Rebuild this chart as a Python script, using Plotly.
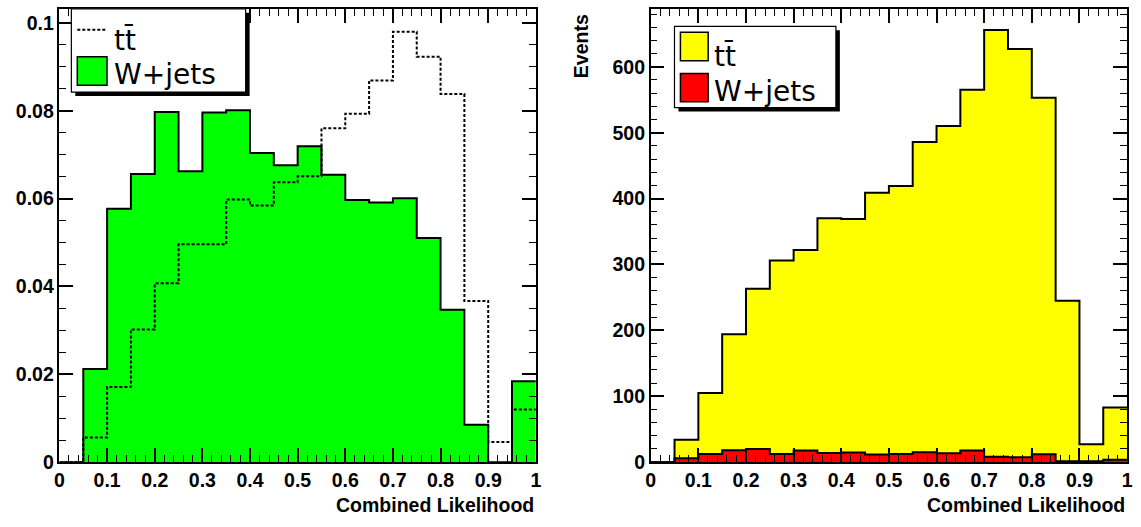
import plotly.graph_objects as go

# ---------------- data ----------------
bin_edges = [0.00, 0.05, 0.10, 0.15, 0.20, 0.25, 0.30, 0.35, 0.40, 0.45, 0.50,
             0.55, 0.60, 0.65, 0.70, 0.75, 0.80, 0.85, 0.90, 0.95, 1.00]

# left panel: normalised shapes
wjets_norm = [0.0, 0.0212, 0.0577, 0.0656, 0.0797, 0.0662, 0.0796, 0.0801, 0.0704, 0.0676,
              0.0719, 0.0654, 0.0597, 0.0591, 0.0601, 0.0510, 0.0347, 0.0085, 0.0, 0.0184]
ttbar_norm = [0.0, 0.0056, 0.0171, 0.0302, 0.0407, 0.0496, 0.0496, 0.0598, 0.0584, 0.0637,
              0.0651, 0.0760, 0.0793, 0.0869, 0.0980, 0.0923, 0.0838, 0.0367, 0.0046, 0.0120]

# right panel: events (stacked)
wjets_events = [0, 6, 12.5, 18, 20, 12.5, 17.5, 14, 14.5, 11.5,
                12.5, 15, 13.5, 17.5, 8, 7.5, 12, 1.5, 1.5, 3.5]
ttbar_events = [0, 28, 92.5, 176, 243, 293.5, 304.5, 356, 354.5, 397.5,
                406.5, 471, 496.5, 547.5, 648, 619.5, 541, 243.5, 25.5, 79.5]

x_title = "Combined Likelihood"
y_title_right = "Events"
label_tt = "tt\u0304"
label_w = "W+jets"

# ---------------- geometry helpers ----------------
W, H = 1141, 527
def px(x):
    return x / W
def py(y):
    return 1 - y / H

def step(vals):
    return list(vals) + [vals[-1]]

fig = go.Figure()

# left panel
fig.add_trace(go.Scatter(x=bin_edges, y=step(wjets_norm), mode="lines",
                         line=dict(shape="hv", color="black", width=2),
                         fill="tozeroy", fillcolor="#00ff00",
                         xaxis="x", yaxis="y", showlegend=False, hoverinfo="skip"))
fig.add_trace(go.Scatter(x=bin_edges, y=step(ttbar_norm), mode="lines",
                         line=dict(shape="hv", color="black", width=2, dash="3px,2px"),
                         xaxis="x", yaxis="y", showlegend=False, hoverinfo="skip"))

# right panel (stacked)
fig.add_trace(go.Scatter(x=bin_edges, y=step(wjets_events), mode="lines",
                         stackgroup="s", line=dict(shape="hv", color="black", width=2),
                         fillcolor="#ff0000",
                         xaxis="x2", yaxis="y2", showlegend=False, hoverinfo="skip"))
fig.add_trace(go.Scatter(x=bin_edges, y=step(ttbar_events), mode="lines",
                         stackgroup="s", line=dict(shape="hv", color="black", width=2),
                         fillcolor="#ffff00",
                         xaxis="x2", yaxis="y2", showlegend=False, hoverinfo="skip"))

tickfont = dict(family="Liberation Sans", size=19.5, color="black", weight="bold")
common = dict(showline=True, linecolor="black", linewidth=1.5, mirror="allticks",
              ticks="inside", ticklen=14, tickwidth=1.5, tickcolor="black",
              showgrid=False, zeroline=False, tickfont=tickfont, fixedrange=True)

def minor(d):
    return dict(dtick=d, ticklen=7, ticks="inside", tickcolor="black", tickwidth=1.2, showgrid=False)

ydom = [py(472), py(9)]
fig.update_layout(
    width=W, height=H,
    margin=dict(l=0, r=0, t=0, b=0),
    paper_bgcolor="white", plot_bgcolor="white",
    xaxis=dict(domain=[px(55), px(536)], range=[0, 1], tick0=0, dtick=0.1,
               minor=minor(0.02), anchor="y", **common),
    yaxis=dict(domain=ydom, range=[0, 0.1032], tick0=0, dtick=0.02,
               minor=minor(0.005), anchor="x", **common),
    xaxis2=dict(domain=[px(652), px(1133)], range=[0, 1], tick0=0, dtick=0.1,
                minor=minor(0.02), anchor="y2", **common),
    yaxis2=dict(domain=ydom, range=[0, 688], tick0=0, dtick=100,
                minor=minor(20), anchor="x2", **common),
)

shapes = []
annotations = []

def rect(x0, y0, x1, y1, fill, lw=1.2, lc="black"):
    shapes.append(dict(type="rect", xref="paper", yref="paper",
                       x0=px(x0), x1=px(x1), y0=py(y1), y1=py(y0),
                       fillcolor=fill, line=dict(color=lc, width=lw), layer="above"))

# left legend
rect(71, 13, 247, 98, "black", lw=0)
rect(67, 9, 243, 94, "white")
shapes.append(dict(type="line", xref="paper", yref="paper", x0=px(73), x1=px(102),
                   y0=py(30.5), y1=py(30.5),
                   line=dict(color="black", width=2, dash="3px,2px"), layer="above"))
rect(73, 58, 103, 87, "#00ff00", lw=1.5)

# right legend
rect(680, 31, 843, 114, "black", lw=0)
rect(676, 27, 839, 110, "white")
rect(682, 33, 710, 62, "#ffff00", lw=1.5)
rect(682, 75, 710, 104, "#ff0000", lw=1.5)

legfont = dict(family="DejaVu Sans", size=28, color="black")
def ann(text, x, y, xanchor="left", yanchor="middle", font=legfont, angle=0):
    annotations.append(dict(text=text, xref="paper", yref="paper", x=px(x), y=py(y),
                            xanchor=xanchor, yanchor=yanchor, showarrow=False,
                            font=font, textangle=angle))

ann(label_tt, 108, 41)
ann(label_w, 108, 76)
ann(label_tt, 714, 57)
ann(label_w, 714, 93)

titlefont = dict(family="Liberation Sans", size=19.5, color="black", weight="bold")
ann(x_title, 536, 516, xanchor="right", font=titlefont)
ann(x_title, 1133, 516, xanchor="right", font=titlefont)
ann(y_title_right, 581, 12, xanchor="center", yanchor="top", font=titlefont, angle=-90)

fig.update_layout(shapes=shapes, annotations=annotations)

fig.write_html("out.html")
